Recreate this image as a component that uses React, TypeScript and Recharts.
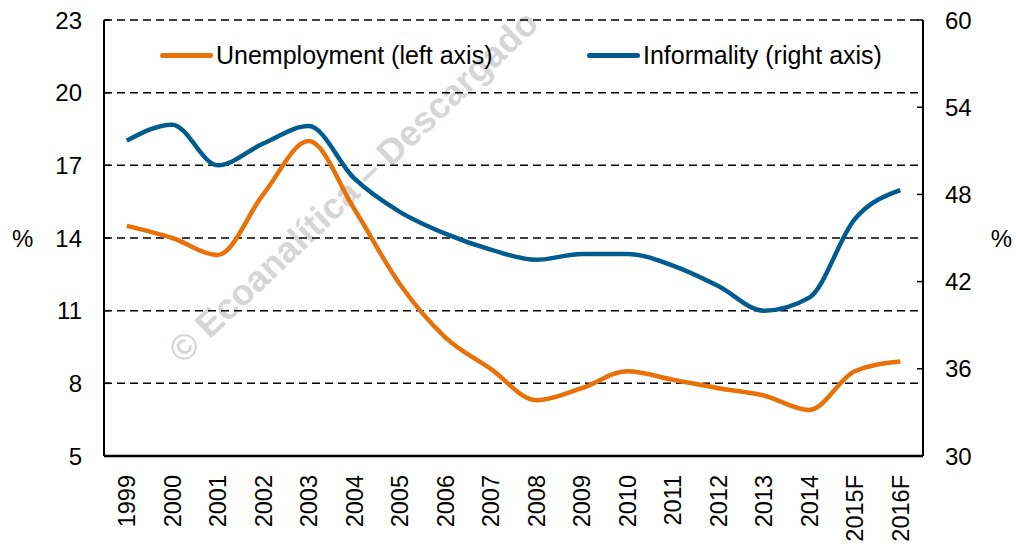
import React from "react";
import {
  LineChart,
  Line,
  XAxis,
  YAxis,
  CartesianGrid,
} from "recharts";

const years = [
  "1999", "2000", "2001", "2002", "2003", "2004", "2005", "2006", "2007",
  "2008", "2009", "2010", "2011", "2012", "2013", "2014", "2015F", "2016F",
];
const unemployment = [
  14.5, 14.0, 13.3, 15.8, 18.0, 15.2, 12.1, 9.9, 8.6,
  7.3, 7.8, 8.5, 8.15, 7.8, 7.5, 6.9, 8.5, 8.9,
];
const informality = [
  51.7, 52.8, 50.0, 51.5, 52.7, 49.1, 46.8, 45.3, 44.2,
  43.5, 43.9, 43.9, 43.1, 41.7, 40.0, 40.9, 46.3, 48.3,
];
const leftTicks = [5, 8, 11, 14, 17, 20, 23];
const rightTicks = [30, 36, 42, 48, 54, 60];

const data = years.map((year, i) => ({
  year,
  unemployment: unemployment[i],
  informality: informality[i],
}));

const FONT = "'Liberation Sans', Arial, sans-serif";
const ORANGE = "#E8710A";
const BLUE = "#005B8F";

const series = [
  { name: "Unemployment (left axis)", color: ORANGE, left: 160 },
  { name: "Informality (right axis)", color: BLUE, left: 587 },
];

const YearTick = ({ x, y, payload }: any) => (
  <g transform={`translate(${x},${y})`}>
    <text
      transform="rotate(-90)"
      x={-19}
      dy="0.36em"
      textAnchor="end"
      fill="#000"
      fontSize={23.5}
      fontFamily={FONT}
    >
      {payload.value}
    </text>
  </g>
);

export default function App() {
  return (
    <div style={{ position: "absolute", left: 0, top: 0, width: 1016, height: 544, overflow: "hidden", background: "#fff" }}>
      {/* watermark */}
      <svg width={1016} height={544} style={{ position: "absolute", left: 0, top: 0 }}>
        <text
          x={183}
          y={365}
          transform="rotate(-43.5 183 365)"
          fontFamily={FONT}
          fontWeight="bold"
          fontSize={36}
          fill="#d6d6d6"
        >
          © Ecoanalítica – Descargado
        </text>
      </svg>
      <div style={{ position: "absolute", left: 0, top: 0 }}>
        <LineChart
          width={1016}
          height={544}
          data={data}
          margin={{ top: 20, right: 0, bottom: 0, left: 0 }}
        >
          <CartesianGrid
            yAxisId="left"
            vertical={false}
            stroke="#000"
            strokeWidth={1.5}
            strokeDasharray="8 5"
          />
          <XAxis
            dataKey="year"
            scale="band"
            height={88}
            interval={0}
            tickLine={false}
            tickSize={0}
            tickMargin={0}
            axisLine={{ stroke: "#000", strokeWidth: 2.5 }}
            tick={<YearTick />}
          />
          <YAxis
            yAxisId="left"
            width={104}
            domain={[5, 23]}
            ticks={leftTicks}
            interval={0}
            tickSize={-6}
            tickMargin={28}
            axisLine={{ stroke: "#000", strokeWidth: 2 }}
            tickLine={{ stroke: "#000", strokeWidth: 1.5 }}
            tick={{ fill: "#000", fontSize: 24, fontFamily: FONT }}
            label={{ value: "%", angle: 0, position: "insideLeft", offset: 12, fill: "#000", fontSize: 24, fontFamily: FONT }}
          />
          <YAxis
            yAxisId="right"
            orientation="right"
            width={93}
            domain={[30, 60]}
            ticks={rightTicks}
            interval={0}
            tickSize={-6}
            tickMargin={28}
            axisLine={{ stroke: "#000", strokeWidth: 2 }}
            tickLine={{ stroke: "#000", strokeWidth: 1.5 }}
            tick={{ fill: "#000", fontSize: 24, fontFamily: FONT }}
            label={{ value: "%", angle: 0, position: "insideRight", offset: 4, fill: "#000", fontSize: 24, fontFamily: FONT }}
          />
          <Line
            yAxisId="left"
            type="monotone"
            dataKey="unemployment"
            name="Unemployment (left axis)"
            stroke={ORANGE}
            strokeWidth={4.5}
            dot={false}
            isAnimationActive={false}
          />
          <Line
            yAxisId="right"
            type="monotone"
            dataKey="informality"
            name="Informality (right axis)"
            stroke={BLUE}
            strokeWidth={4.5}
            dot={false}
            isAnimationActive={false}
          />
        </LineChart>
      </div>
      {/* legend */}
      {series.map((s) => (
        <div
          key={s.name}
          style={{
            position: "absolute",
            left: s.left,
            top: 40,
            height: 30,
            display: "flex",
            alignItems: "center",
            fontFamily: FONT,
            fontSize: 25,
            color: "#000",
            whiteSpace: "nowrap",
          }}
        >
          <span
            style={{
              display: "inline-block",
              width: 53,
              height: 5,
              borderRadius: 3,
              background: s.color,
              marginRight: 3,
            }}
          />
          {s.name}
        </div>
      ))}
    </div>
  );
}
